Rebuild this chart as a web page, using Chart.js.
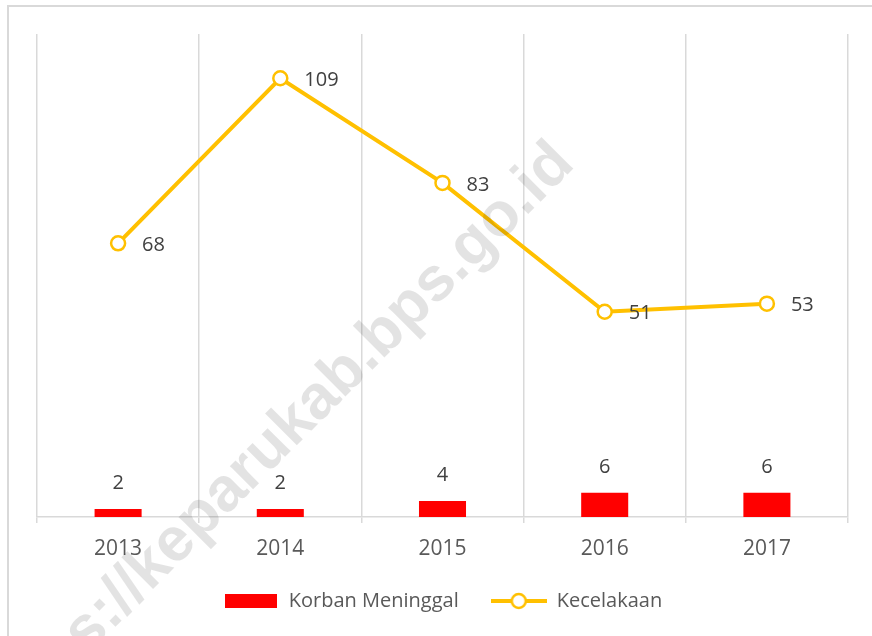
<!DOCTYPE html>
<html>
<head>
<meta charset="utf-8">
<script src="https://cdn.jsdelivr.net/npm/chart.js@4"></script>
<style>
  html, body { margin: 0; padding: 0; background: #fff; overflow: hidden; }
  #frame { position: absolute; left: 7px; top: 5px; width: 1000px; height: 800px;
           border-left: 2px solid #d9d9d9; border-top: 2px solid #d9d9d9; }
  #wrap { position: absolute; left: 0; top: 0; width: 872px; height: 636px; }
</style>
</head>
<body>
<div id="frame"></div>
<div id="wrap"><canvas id="chart" width="872" height="636"></canvas></div>
<script>
const years = ['2013', '2014', '2015', '2016', '2017'];
const korbanMeninggal = [2, 2, 4, 6, 6];
const kecelakaan = [68, 109, 83, 51, 53];

const FONT = '"Open Sans", "Liberation Sans", sans-serif';

// legend markers
function boxIcon() {
    const c = document.createElement('canvas');
    c.width = 52; c.height = 14;
    const g = c.getContext('2d');
    g.fillStyle = '#ff0000';
    g.fillRect(0, 0, 52, 14);
    return c;
}
function lineIcon() {
    const c = document.createElement('canvas');
    c.width = 56; c.height = 20;
    const g = c.getContext('2d');
    g.strokeStyle = '#ffc000';
    g.lineWidth = 4;
    g.beginPath(); g.moveTo(0, 10); g.lineTo(56, 10); g.stroke();
    g.fillStyle = '#fff';
    g.lineWidth = 2.5;
    g.beginPath(); g.arc(28, 10, 7, 0, Math.PI * 2); g.fill(); g.stroke();
    return c;
}
const icons = [boxIcon(), lineIcon()];

const valueLabels = {
    id: 'valueLabels',
    afterDatasetsDraw(chart) {
        const ctx = chart.ctx;
        ctx.save();
        ctx.font = '20px ' + FONT;
        ctx.fillStyle = '#404040';
        ctx.textBaseline = 'middle';
        chart.data.datasets.forEach((ds, i) => {
            const meta = chart.getDatasetMeta(i);
            meta.data.forEach((el, j) => {
                const v = ds.data[j];
                if (ds.type === 'bar') {
                    ctx.textAlign = 'center';
                    ctx.fillText(v, el.x, el.y - 26);
                } else {
                    ctx.textAlign = 'left';
                    ctx.fillText(v, el.x + 24, el.y + 2);
                }
            });
        });
        ctx.restore();
    }
};

const watermark = {
    id: 'watermark',
    afterDraw(chart) {
        const ctx = chart.ctx;
        ctx.save();
        ctx.font = 'bold 62px "Liberation Sans", Arial, sans-serif';
        ctx.fillStyle = 'rgba(0,0,0,0.11)';
        ctx.textBaseline = 'middle';
        ctx.translate(138, 580);
        ctx.rotate(-Math.PI / 4);
        const pre = ctx.measureText('https://').width;
        ctx.fillText('https://keparukab.bps.go.id', -pre, 0);
        ctx.restore();
    }
};

new Chart(document.getElementById('chart'), {
    data: {
        labels: years,
        datasets: [{
            type: 'bar',
            label: 'Korban Meninggal',
            data: korbanMeninggal,
            backgroundColor: '#ff0000',
            barPercentage: 0.29,
            categoryPercentage: 1,
            order: 2
        }, {
            type: 'line',
            label: 'Kecelakaan',
            data: kecelakaan,
            borderColor: '#ffc000',
            borderWidth: 4,
            pointRadius: 7,
            pointHoverRadius: 7,
            pointBorderWidth: 2.5,
            pointBackgroundColor: '#ffffff',
            pointBorderColor: '#ffc000',
            tension: 0,
            order: 1
        }]
    },
    options: {
        responsive: false,
        animation: false,
        layout: { padding: { left: 37, right: 24, top: 34, bottom: 15 } },
        scales: {
            x: {
                offset: true,
                grid: { offset: true, color: '#d9d9d9', lineWidth: 1.5, tickLength: 6 },
                border: { color: '#d9d9d9', width: 1.5 },
                ticks: { color: '#595959', font: { family: FONT, size: 21 }, padding: 13 },
                afterFit(scale) { scale.height = 42; }
            },
            y: {
                display: false,
                min: 0,
                max: 120
            }
        },
        plugins: {
            tooltip: { enabled: false },
            legend: {
                position: 'bottom',
                labels: {
                    usePointStyle: true,
                    pointStyleWidth: 56,
                    padding: 32,
                    color: '#595959',
                    font: { family: FONT, size: 20 },
                    generateLabels(chart) {
                        return chart.data.datasets.map((ds, i) => ({
                            text: ds.label,
                            pointStyle: icons[i],
                            fontColor: '#595959',
                            hidden: false,
                            datasetIndex: i,
                            lineWidth: 0
                        }));
                    }
                }
            }
        }
    },
    plugins: [valueLabels, watermark]
});
</script>
</body>
</html>
